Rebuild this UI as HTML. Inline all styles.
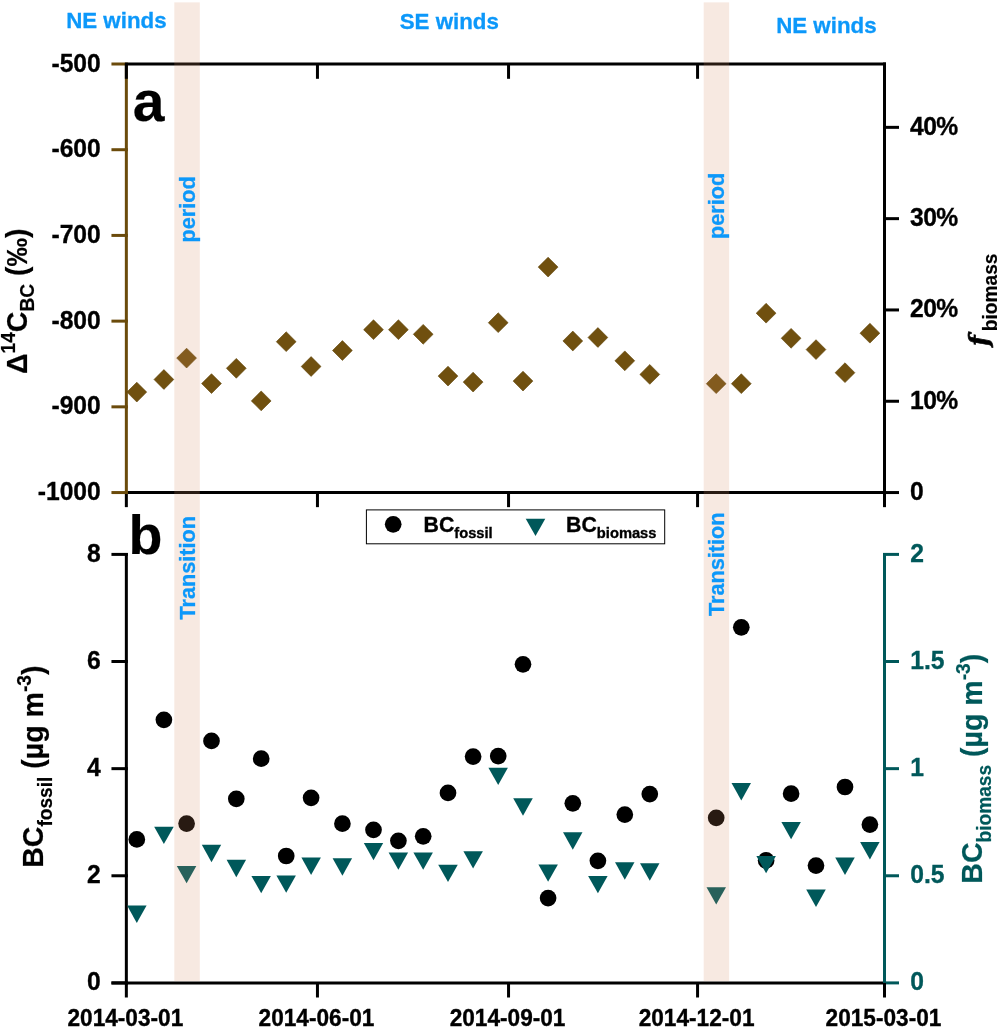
<!DOCTYPE html>
<html lang="en"><head><meta charset="utf-8"><title>BC source apportionment time series</title>
<style>html,body{margin:0;padding:0;background:#fff}svg{display:block;will-change:transform}text{font-family:"Liberation Sans",sans-serif;font-weight:bold}</style></head><body>
<svg width="997" height="1027" viewBox="0 0 997 1027">
<rect width="997" height="1027" fill="#fff"/>
<g id="axes-a">
<line x1="124.85" y1="492.55" x2="886.00" y2="492.55" stroke="#000" stroke-width="3.0"/>
<line x1="126.35" y1="492.55" x2="126.35" y2="507.15" stroke="#000" stroke-width="3.0"/>
<line x1="317.45" y1="492.55" x2="317.45" y2="507.15" stroke="#000" stroke-width="3.0"/>
<line x1="508.54" y1="492.55" x2="508.54" y2="507.15" stroke="#000" stroke-width="3.0"/>
<line x1="697.56" y1="492.55" x2="697.56" y2="507.15" stroke="#000" stroke-width="3.0"/>
<line x1="884.50" y1="492.55" x2="884.50" y2="507.15" stroke="#000" stroke-width="3.0"/>
<line x1="884.50" y1="62.50" x2="884.50" y2="494.05" stroke="#000" stroke-width="3.0"/>
<line x1="884.50" y1="492.55" x2="899.00" y2="492.55" stroke="#000" stroke-width="3.0"/>
<line x1="884.50" y1="401.25" x2="899.00" y2="401.25" stroke="#000" stroke-width="3.0"/>
<line x1="884.50" y1="309.95" x2="899.00" y2="309.95" stroke="#000" stroke-width="3.0"/>
<line x1="884.50" y1="218.65" x2="899.00" y2="218.65" stroke="#000" stroke-width="3.0"/>
<line x1="884.50" y1="127.35" x2="899.00" y2="127.35" stroke="#000" stroke-width="3.0"/>
<line x1="126.35" y1="64.00" x2="126.35" y2="494.05" stroke="#6b4b0b" stroke-width="3.0"/>
<line x1="111.45" y1="64.00" x2="127.85" y2="64.00" stroke="#6b4b0b" stroke-width="3.0"/>
<line x1="111.45" y1="149.71" x2="127.85" y2="149.71" stroke="#6b4b0b" stroke-width="3.0"/>
<line x1="111.45" y1="235.42" x2="127.85" y2="235.42" stroke="#6b4b0b" stroke-width="3.0"/>
<line x1="111.45" y1="321.13" x2="127.85" y2="321.13" stroke="#6b4b0b" stroke-width="3.0"/>
<line x1="111.45" y1="406.84" x2="127.85" y2="406.84" stroke="#6b4b0b" stroke-width="3.0"/>
<line x1="111.45" y1="492.55" x2="127.85" y2="492.55" stroke="#6b4b0b" stroke-width="3.0"/>
<line x1="124.85" y1="64.00" x2="886.00" y2="64.00" stroke="#000" stroke-width="3.0"/>
<line x1="126.35" y1="64.00" x2="126.35" y2="78.80" stroke="#000" stroke-width="3.0"/>
<line x1="317.45" y1="64.00" x2="317.45" y2="78.80" stroke="#000" stroke-width="3.0"/>
<line x1="508.54" y1="64.00" x2="508.54" y2="78.80" stroke="#000" stroke-width="3.0"/>
<line x1="697.56" y1="64.00" x2="697.56" y2="78.80" stroke="#000" stroke-width="3.0"/>
<line x1="884.50" y1="64.00" x2="884.50" y2="78.80" stroke="#000" stroke-width="3.0"/>
</g>
<g id="axes-b">
<line x1="126.35" y1="552.90" x2="126.35" y2="984.40" stroke="#000" stroke-width="3.0"/>
<line x1="884.50" y1="552.90" x2="884.50" y2="984.40" stroke="#00585a" stroke-width="3.0"/>
<line x1="111.45" y1="982.90" x2="127.85" y2="982.90" stroke="#000" stroke-width="3.0"/>
<line x1="883.00" y1="982.90" x2="899.00" y2="982.90" stroke="#00585a" stroke-width="3.0"/>
<line x1="111.45" y1="875.77" x2="127.85" y2="875.77" stroke="#000" stroke-width="3.0"/>
<line x1="883.00" y1="875.77" x2="899.00" y2="875.77" stroke="#00585a" stroke-width="3.0"/>
<line x1="111.45" y1="768.65" x2="127.85" y2="768.65" stroke="#000" stroke-width="3.0"/>
<line x1="883.00" y1="768.65" x2="899.00" y2="768.65" stroke="#00585a" stroke-width="3.0"/>
<line x1="111.45" y1="661.52" x2="127.85" y2="661.52" stroke="#000" stroke-width="3.0"/>
<line x1="883.00" y1="661.52" x2="899.00" y2="661.52" stroke="#00585a" stroke-width="3.0"/>
<line x1="111.45" y1="554.40" x2="127.85" y2="554.40" stroke="#000" stroke-width="3.0"/>
<line x1="883.00" y1="554.40" x2="899.00" y2="554.40" stroke="#00585a" stroke-width="3.0"/>
<line x1="111.45" y1="982.90" x2="883.00" y2="982.90" stroke="#000" stroke-width="3.0"/>
<line x1="126.35" y1="982.90" x2="126.35" y2="997.50" stroke="#000" stroke-width="3.0"/>
<line x1="317.45" y1="982.90" x2="317.45" y2="997.50" stroke="#000" stroke-width="3.0"/>
<line x1="508.54" y1="982.90" x2="508.54" y2="997.50" stroke="#000" stroke-width="3.0"/>
<line x1="697.56" y1="982.90" x2="697.56" y2="997.50" stroke="#000" stroke-width="3.0"/>
<line x1="884.50" y1="982.90" x2="884.50" y2="997.50" stroke="#000" stroke-width="3.0"/>
</g>
<g id="diamonds" fill="#70500f" stroke="#5f4306" stroke-width="0.6">
<path d="M136.8 382.2L146.7 392.1L136.8 402.0L126.9 392.1Z"/>
<path d="M163.9 369.6L173.8 379.5L163.9 389.4L154.0 379.5Z"/>
<path d="M186.6 348.2L196.5 358.1L186.6 368.0L176.7 358.1Z"/>
<path d="M211.5 373.7L221.4 383.6L211.5 393.5L201.6 383.6Z"/>
<path d="M236.3 358.4L246.2 368.3L236.3 378.2L226.4 368.3Z"/>
<path d="M261.2 391.0L271.1 400.9L261.2 410.8L251.3 400.9Z"/>
<path d="M286.2 331.8L296.1 341.7L286.2 351.6L276.3 341.7Z"/>
<path d="M311.1 356.6L321.0 366.5L311.1 376.4L301.2 366.5Z"/>
<path d="M342.4 340.6L352.3 350.5L342.4 360.4L332.5 350.5Z"/>
<path d="M373.5 319.8L383.4 329.7L373.5 339.6L363.6 329.7Z"/>
<path d="M398.4 319.8L408.3 329.7L398.4 339.6L388.5 329.7Z"/>
<path d="M423.2 324.4L433.1 334.3L423.2 344.2L413.3 334.3Z"/>
<path d="M448.0 366.2L457.9 376.1L448.0 386.0L438.1 376.1Z"/>
<path d="M473.1 372.2L483.0 382.1L473.1 392.0L463.2 382.1Z"/>
<path d="M498.2 312.8L508.1 322.7L498.2 332.6L488.3 322.7Z"/>
<path d="M523.0 371.2L532.9 381.1L523.0 391.0L513.1 381.1Z"/>
<path d="M548.1 257.2L558.0 267.1L548.1 277.0L538.2 267.1Z"/>
<path d="M572.8 331.1L582.7 341.0L572.8 350.9L562.9 341.0Z"/>
<path d="M597.9 327.6L607.8 337.5L597.9 347.4L588.0 337.5Z"/>
<path d="M624.8 350.9L634.7 360.8L624.8 370.7L614.9 360.8Z"/>
<path d="M649.8 364.5L659.7 374.4L649.8 384.3L639.9 374.4Z"/>
<path d="M716.2 373.8L726.1 383.7L716.2 393.6L706.3 383.7Z"/>
<path d="M741.3 373.8L751.2 383.7L741.3 393.6L731.4 383.7Z"/>
<path d="M766.1 303.3L776.0 313.2L766.1 323.1L756.2 313.2Z"/>
<path d="M791.1 328.4L801.0 338.3L791.1 348.2L781.2 338.3Z"/>
<path d="M816.0 339.7L825.9 349.6L816.0 359.5L806.1 349.6Z"/>
<path d="M845.0 362.8L854.9 372.7L845.0 382.6L835.1 372.7Z"/>
<path d="M869.9 323.3L879.8 333.2L869.9 343.1L860.0 333.2Z"/>
</g>
<g id="circles" fill="#000">
<circle cx="136.8" cy="839.4" r="8.35"/>
<circle cx="163.9" cy="719.8" r="8.35"/>
<circle cx="186.6" cy="823.6" r="8.35"/>
<circle cx="211.5" cy="740.9" r="8.35"/>
<circle cx="236.3" cy="798.8" r="8.35"/>
<circle cx="261.2" cy="758.7" r="8.35"/>
<circle cx="286.2" cy="856.0" r="8.35"/>
<circle cx="311.1" cy="797.8" r="8.35"/>
<circle cx="342.4" cy="823.7" r="8.35"/>
<circle cx="373.5" cy="829.8" r="8.35"/>
<circle cx="398.4" cy="840.8" r="8.35"/>
<circle cx="423.2" cy="836.3" r="8.35"/>
<circle cx="448.0" cy="792.9" r="8.35"/>
<circle cx="473.1" cy="756.6" r="8.35"/>
<circle cx="498.2" cy="756.1" r="8.35"/>
<circle cx="523.0" cy="664.3" r="8.35"/>
<circle cx="548.1" cy="898.1" r="8.35"/>
<circle cx="572.8" cy="803.3" r="8.35"/>
<circle cx="597.9" cy="860.8" r="8.35"/>
<circle cx="624.8" cy="814.6" r="8.35"/>
<circle cx="649.8" cy="794.1" r="8.35"/>
<circle cx="716.2" cy="817.8" r="8.35"/>
<circle cx="741.3" cy="627.3" r="8.35"/>
<circle cx="766.1" cy="860.4" r="8.35"/>
<circle cx="791.1" cy="793.7" r="8.35"/>
<circle cx="816.0" cy="865.6" r="8.35"/>
<circle cx="845.0" cy="787.0" r="8.35"/>
<circle cx="869.9" cy="824.6" r="8.35"/>
</g>
<g id="triangles" fill="#00585a">
<path d="M127.1 905.5L146.6 905.5L136.8 922.9Z"/>
<path d="M154.2 826.7L173.7 826.7L163.9 844.1Z"/>
<path d="M176.8 865.9L196.3 865.9L186.6 883.3Z"/>
<path d="M201.8 844.8L221.2 844.8L211.5 862.2Z"/>
<path d="M226.6 859.8L246.1 859.8L236.3 877.2Z"/>
<path d="M251.4 875.9L270.9 875.9L261.2 893.3Z"/>
<path d="M276.4 875.4L295.9 875.4L286.2 892.8Z"/>
<path d="M301.4 857.6L320.9 857.6L311.1 875.0Z"/>
<path d="M332.6 858.3L352.1 858.3L342.4 875.7Z"/>
<path d="M363.8 842.9L383.2 842.9L373.5 860.3Z"/>
<path d="M388.6 852.4L408.1 852.4L398.4 869.8Z"/>
<path d="M413.4 852.4L432.9 852.4L423.2 869.8Z"/>
<path d="M438.2 864.7L457.8 864.7L448.0 882.1Z"/>
<path d="M463.4 851.2L482.9 851.2L473.1 868.6Z"/>
<path d="M488.4 767.7L507.9 767.7L498.2 785.1Z"/>
<path d="M513.2 798.3L532.8 798.3L523.0 815.7Z"/>
<path d="M538.4 864.4L557.9 864.4L548.1 881.8Z"/>
<path d="M563.0 832.3L582.5 832.3L572.8 849.7Z"/>
<path d="M588.1 875.9L607.6 875.9L597.9 893.3Z"/>
<path d="M615.0 862.3L634.5 862.3L624.8 879.7Z"/>
<path d="M640.0 863.3L659.5 863.3L649.8 880.7Z"/>
<path d="M706.5 887.2L726.0 887.2L716.2 904.6Z"/>
<path d="M731.5 783.0L751.0 783.0L741.3 800.4Z"/>
<path d="M756.4 855.9L775.9 855.9L766.1 873.3Z"/>
<path d="M781.4 821.9L800.9 821.9L791.1 839.3Z"/>
<path d="M806.2 889.6L825.8 889.6L816.0 907.0Z"/>
<path d="M835.2 857.6L854.8 857.6L845.0 875.0Z"/>
<path d="M860.1 842.0L879.6 842.0L869.9 859.4Z"/>
</g>
<g id="legend">
<rect x="366.4" y="509.9" width="298.3" height="33.9" fill="#fff" stroke="#000" stroke-width="1"/>
<circle cx="393.2" cy="524.3" r="8.35" fill="#000"/>
<text transform="translate(423.50 531.60)" font-size="21.3" fill="#000" stroke="#000" stroke-width="0.35">BC<tspan font-size="14.7" dy="6">fossil</tspan></text>
<path d="M525.7 518.7L545.3 518.7L535.5 536.1Z" fill="#00585a"/>
<text transform="translate(566.10 531.60)" font-size="21.3" fill="#000" stroke="#000" stroke-width="0.35">BC<tspan font-size="14.7" dy="6">biomass</tspan></text>
</g>
<g id="ticklabels">
<text transform="translate(100.80 71.50) scale(0.938 1)" font-size="26.3" text-anchor="end" fill="#000" stroke="#000" stroke-width="0.35">-500</text>
<text transform="translate(100.80 157.21) scale(0.938 1)" font-size="26.3" text-anchor="end" fill="#000" stroke="#000" stroke-width="0.35">-600</text>
<text transform="translate(100.80 242.92) scale(0.938 1)" font-size="26.3" text-anchor="end" fill="#000" stroke="#000" stroke-width="0.35">-700</text>
<text transform="translate(100.80 328.63) scale(0.938 1)" font-size="26.3" text-anchor="end" fill="#000" stroke="#000" stroke-width="0.35">-800</text>
<text transform="translate(100.80 414.34) scale(0.938 1)" font-size="26.3" text-anchor="end" fill="#000" stroke="#000" stroke-width="0.35">-900</text>
<text transform="translate(100.80 500.05) scale(0.938 1)" font-size="26.3" text-anchor="end" fill="#000" stroke="#000" stroke-width="0.35">-1000</text>
<text transform="translate(910.00 500.05) scale(0.938 1)" font-size="26.3" fill="#000" stroke="#000" stroke-width="0.35">0</text>
<text transform="translate(910.00 408.75) scale(0.938 1)" font-size="26.3" fill="#000" stroke="#000" stroke-width="0.35" letter-spacing="-0.6">10%</text>
<text transform="translate(910.00 317.45) scale(0.938 1)" font-size="26.3" fill="#000" stroke="#000" stroke-width="0.35" letter-spacing="-0.6">20%</text>
<text transform="translate(910.00 226.15) scale(0.938 1)" font-size="26.3" fill="#000" stroke="#000" stroke-width="0.35" letter-spacing="-0.6">30%</text>
<text transform="translate(910.00 134.85) scale(0.938 1)" font-size="26.3" fill="#000" stroke="#000" stroke-width="0.35" letter-spacing="-0.6">40%</text>
<text transform="translate(100.80 990.40) scale(0.938 1)" font-size="26.3" text-anchor="end" fill="#000" stroke="#000" stroke-width="0.35">0</text>
<text transform="translate(100.80 883.27) scale(0.938 1)" font-size="26.3" text-anchor="end" fill="#000" stroke="#000" stroke-width="0.35">2</text>
<text transform="translate(100.80 776.15) scale(0.938 1)" font-size="26.3" text-anchor="end" fill="#000" stroke="#000" stroke-width="0.35">4</text>
<text transform="translate(100.80 669.02) scale(0.938 1)" font-size="26.3" text-anchor="end" fill="#000" stroke="#000" stroke-width="0.35">6</text>
<text transform="translate(100.80 561.90) scale(0.938 1)" font-size="26.3" text-anchor="end" fill="#000" stroke="#000" stroke-width="0.35">8</text>
<text transform="translate(910.20 990.40) scale(0.938 1)" font-size="26.3" fill="#00585a" stroke="#00585a" stroke-width="0.35">0</text>
<text transform="translate(910.20 883.27) scale(0.938 1)" font-size="26.3" fill="#00585a" stroke="#00585a" stroke-width="0.35">0.5</text>
<text transform="translate(910.20 776.15) scale(0.938 1)" font-size="26.3" fill="#00585a" stroke="#00585a" stroke-width="0.35">1</text>
<text transform="translate(910.20 669.02) scale(0.938 1)" font-size="26.3" fill="#00585a" stroke="#00585a" stroke-width="0.35">1.5</text>
<text transform="translate(910.20 561.90) scale(0.938 1)" font-size="26.3" fill="#00585a" stroke="#00585a" stroke-width="0.35">2</text>
<text transform="translate(125.35 1026.00) scale(0.94 1)" font-size="24.1" text-anchor="middle" fill="#000" stroke="#000" stroke-width="0.35">2014-03-01</text>
<text transform="translate(316.45 1026.00) scale(0.94 1)" font-size="24.1" text-anchor="middle" fill="#000" stroke="#000" stroke-width="0.35">2014-06-01</text>
<text transform="translate(507.54 1026.00) scale(0.94 1)" font-size="24.1" text-anchor="middle" fill="#000" stroke="#000" stroke-width="0.35">2014-09-01</text>
<text transform="translate(696.56 1026.00) scale(0.94 1)" font-size="24.1" text-anchor="middle" fill="#000" stroke="#000" stroke-width="0.35">2014-12-01</text>
<text transform="translate(883.50 1026.00) scale(0.94 1)" font-size="24.1" text-anchor="middle" fill="#000" stroke="#000" stroke-width="0.35">2015-03-01</text>
</g>
<g id="axistitles">
<text transform="translate(27.30 374.00) rotate(-90) scale(0.957 1)" font-size="29.8" fill="#000" stroke="#000" stroke-width="0.2">Δ<tspan font-size="20.0" dy="-12.5">14</tspan><tspan dy="12.5">C</tspan><tspan font-size="20.0" dy="7">BC</tspan><tspan dy="-7"> (‰)</tspan></text>
<text transform="translate(43.00 867.80) rotate(-90) scale(0.957 1)" font-size="29.8" fill="#000" stroke="#000" stroke-width="0.2">BC<tspan font-size="20.0" dy="8.5">fossil</tspan><tspan dy="-8.5"> (µg m</tspan><tspan font-size="20.0" dy="-12.5">-3</tspan><tspan dy="12.5">)</tspan></text>
<text transform="translate(988.30 346.00) rotate(-90) scale(0.957 1)" font-size="29.8" fill="#000" stroke="#000" stroke-width="0.2"><tspan font-family="DejaVu Serif,Liberation Serif,serif" font-style="italic" font-size="26" stroke-width="0.7">f</tspan><tspan font-size="20.0" dx="4.3" dy="9.0">biomass</tspan></text>
<text transform="translate(982.20 883.70) rotate(-90) scale(0.957 1)" font-size="29.8" fill="#00585a" stroke="#00585a" stroke-width="0.2">BC<tspan font-size="20.0" dy="8.5">biomass</tspan><tspan dy="-8.5"> (µg m</tspan><tspan font-size="20.0" dy="-12.5">-3</tspan><tspan dy="12.5">)</tspan></text>
</g>
<text transform="translate(132.70 120.70)" font-size="57" fill="#000" stroke="#000" stroke-width="0.2">a</text>
<text transform="translate(128.50 554.20)" font-size="55.5" fill="#000" stroke="#000" stroke-width="0.2">b</text>
<g id="bands" fill="rgba(210,137,95,0.19)">
<rect x="174.3" y="2.4" width="25.5" height="978.8"/>
<rect x="703.7" y="2.4" width="25.4" height="978.8"/>
</g>
<g id="annotations" fill="#0c98fa">
<text transform="translate(66.20 27.70)" font-size="22.3" fill="#0c98fa" stroke="#0c98fa" stroke-width="0.3">NE winds</text>
<text transform="translate(399.70 28.60)" font-size="22.3" fill="#0c98fa" stroke="#0c98fa" stroke-width="0.3">SE winds</text>
<text transform="translate(776.20 32.50)" font-size="22.3" fill="#0c98fa" stroke="#0c98fa" stroke-width="0.3">NE winds</text>
<text transform="translate(195.10 242.50) rotate(-90)" font-size="21.7" fill="#0c98fa" stroke="#0c98fa" stroke-width="0.3">period</text>
<text transform="translate(195.10 619.60) rotate(-90)" font-size="21.7" fill="#0c98fa" stroke="#0c98fa" stroke-width="0.3">Transition</text>
<text transform="translate(723.80 239.10) rotate(-90)" font-size="21.7" fill="#0c98fa" stroke="#0c98fa" stroke-width="0.3">period</text>
<text transform="translate(723.80 616.10) rotate(-90)" font-size="21.7" fill="#0c98fa" stroke="#0c98fa" stroke-width="0.3">Transition</text>
</g>
</svg></body></html>
